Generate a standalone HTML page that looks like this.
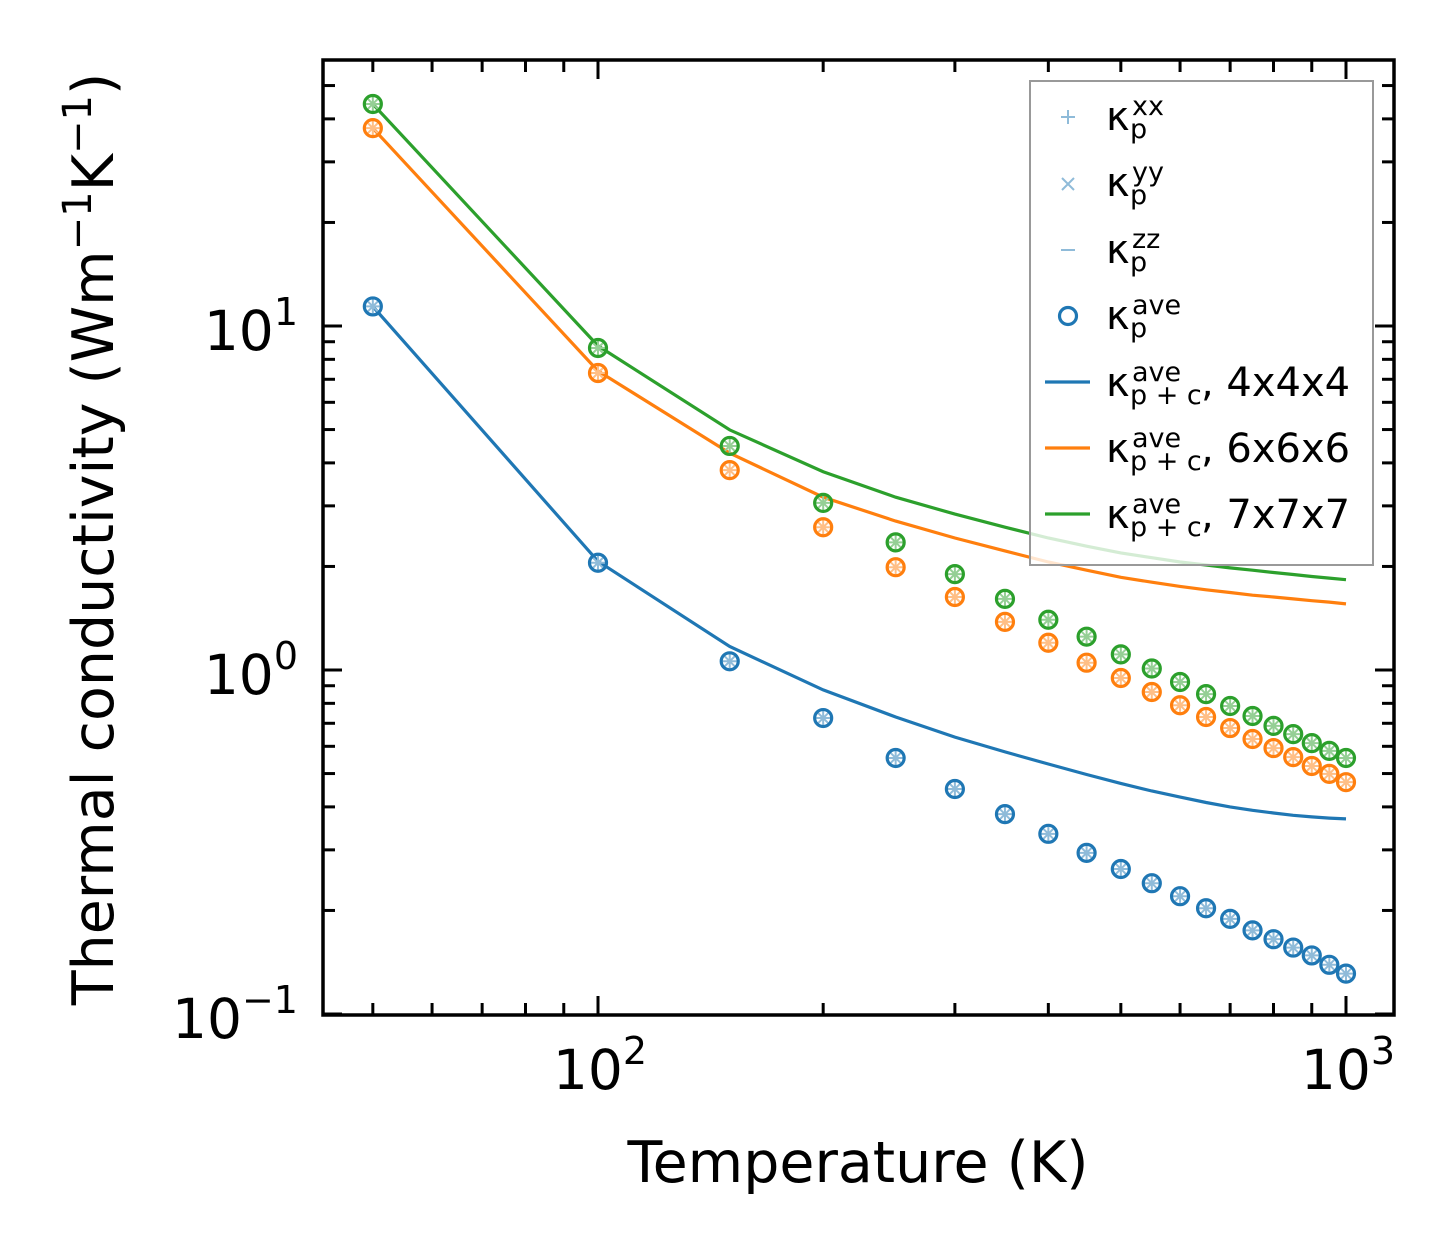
<!DOCTYPE html>
<html><head><meta charset="utf-8"><style>
html,body{margin:0;padding:0;background:#fff}
svg{display:block;font-family:"DejaVu Sans","Liberation Sans",sans-serif}
</style></head><body>
<svg id="chart" width="1454" height="1254" viewBox="0 0 1454 1254" xmlns="http://www.w3.org/2000/svg" style="position:absolute;left:0;top:0">
<g id="plot"></g>
</svg>
<script>
const temps = [50,100,150,200,250,300,350,400,450,500,550,600,650,700,750,800,850,900,950,1000];
const blueP = [11.4,2.05,1.06,0.725,0.555,0.451,0.381,0.334,0.294,0.264,0.240,0.220,0.203,0.189,0.175,0.165,0.156,0.148,0.139,0.131];
const orangeP = [37.6,7.3,3.81,2.6,1.99,1.63,1.38,1.20,1.05,0.948,0.863,0.79,0.73,0.678,0.63,0.593,0.558,0.526,0.499,0.472];
const greenP = [44.2,8.63,4.48,3.06,2.35,1.90,1.61,1.40,1.25,1.11,1.01,0.923,0.851,0.786,0.735,0.688,0.651,0.613,0.582,0.555];
const blueL = [11.4,2.07,1.17,0.875,0.73,0.638,0.578,0.533,0.497,0.468,0.445,0.427,0.412,0.400,0.391,0.384,0.378,0.374,0.371,0.369];
const orangeL = [37.6,7.4,4.27,3.18,2.71,2.42,2.22,2.06,1.95,1.86,1.80,1.75,1.71,1.68,1.65,1.63,1.61,1.59,1.575,1.556];
const greenL = [44.2,8.75,4.99,3.77,3.18,2.84,2.6,2.42,2.29,2.19,2.12,2.06,2.02,1.98,1.95,1.92,1.895,1.87,1.85,1.83];
const xTickVals = [100,1000];
const xTickExp = ['2','3'];
const yTickVals = [0.1,1,10];
const yTickExp = ['−1','0','1'];

const NS='http://www.w3.org/2000/svg';
const L=323,R=1394,T=60,B=1015;
function X(v){return 598+(Math.log10(v)-2)*748;}
function Y(v){return 670-Math.log10(v)*344;}
const g=document.getElementById('plot');
function mk(tag,attrs,parent){const e=document.createElementNS(NS,tag);for(const k in attrs)e.setAttribute(k,attrs[k]);(parent||g).appendChild(e);return e;}

const cols={b:'#1f77b4',o:'#ff7f0e',g:'#2ca02c'};
const lcols={b:'#8fbbd9',o:'#ffbf86',g:'#95cf95'};
const series=[['b',blueP,blueL,'blue'],['o',orangeP,orangeL,'orange'],['g',greenP,greenL,'green']];

series.forEach(s=>{
  const d=temps.map((t,i)=>(i?'L':'M')+X(t).toFixed(1)+','+Y(s[2][i]).toFixed(1)).join(' ');
  const p=mk('path',{d:d,fill:'none',stroke:cols[s[0]],'stroke-width':3.2});
  
  
});
series.forEach(s=>{
  temps.forEach((t,i)=>{
    const cx=X(t),cy=Y(s[1][i]);
    const grp=mk('g',{});
    
    
    const lc=lcols[s[0]];
    mk('path',{d:`M${cx-7},${cy}H${cx+7}M${cx},${cy-7}V${cy+7}M${cx-5},${cy-5}L${cx+5},${cy+5}M${cx-5},${cy+5}L${cx+5},${cy-5}`,stroke:lc,'stroke-width':2},grp);
    mk('circle',{cx:cx,cy:cy,r:8.5,fill:'none',stroke:cols[s[0]],'stroke-width':3.2},grp);
  });
});

const ax=mk('g',{});


function tick(x1,y1,x2,y2){mk('line',{x1:x1,y1:y1,x2:x2,y2:y2,stroke:'#000','stroke-width':3},ax);}
for(let dec=10;dec<=1000;dec*=10){for(let m=1;m<10;m++){const v=dec*m;const x=X(v);if(x<L||x>R)continue;const len=m===1?19:12;tick(x,B,x,B-len);tick(x,T,x,T+len);}}
for(let dec=0.1;dec<=100;dec*=10){for(let m=1;m<10;m++){const v=dec*m;const y=Y(v);if(y<T-1||y>B+1)continue;const len=m===1?19:12;tick(L,y,L+len,y);tick(R,y,R-len,y);}}
mk('rect',{x:L,y:T,width:R-L,height:B-T,fill:'none',stroke:'#000','stroke-width':3.5},ax);

xTickVals.forEach((v,i)=>{
  const t=mk('text',{x:X(v)+2,y:1089,'font-size':55,'text-anchor':'middle'});
  
  
  t.innerHTML='10<tspan dy="-25" font-size="38">'+xTickExp[i]+'</tspan>';
});
yTickVals.forEach((v,i)=>{
  const t=mk('text',{x:298,y:Y(v)+24,'font-size':55,'text-anchor':'end'});
  
  
  t.innerHTML='10<tspan dy="-25" font-size="38">'+yTickExp[i]+'</tspan>';
});
</script>
<svg style="position:absolute;left:0;top:0" width="1454" height="1254" xmlns="http://www.w3.org/2000/svg" font-family="DejaVu Sans, Liberation Sans, sans-serif">
<text x="858" y="1182" font-size="57" text-anchor="middle">Temperature (K)</text>
<text transform="translate(113,539) rotate(-90)" font-size="57" text-anchor="middle">Thermal conductivity (Wm<tspan dy="-22" font-size="40">−1</tspan><tspan dy="22">K</tspan><tspan dy="-22" font-size="40">−1</tspan><tspan dy="22">)</tspan></text>
<g>
<rect x="1030" y="81" width="343" height="484" fill="#fff" fill-opacity="0.8" stroke="#999" stroke-width="2"/>
<g>
<path d="M1061,117H1075M1068,110V124" stroke="#8fbbd9" stroke-width="2"/>
<text x="1106" y="130" font-size="40">κ</text><text x="1130" y="138" font-size="27">p</text><text x="1132" y="115" font-size="27">xx</text></g>
<g>
<path d="M1062,178L1074,190M1062,190L1074,178" stroke="#8fbbd9" stroke-width="2"/>
<text x="1106" y="196" font-size="40">κ</text><text x="1130" y="204" font-size="27">p</text><text x="1132" y="181" font-size="27">yy</text></g>
<g>
<path d="M1061,250H1075" stroke="#8fbbd9" stroke-width="2"/>
<text x="1106" y="263" font-size="40">κ</text><text x="1130" y="271" font-size="27">p</text><text x="1132" y="248" font-size="27">zz</text></g>
<g>
<circle cx="1068" cy="316" r="8.5" fill="none" stroke="#1f77b4" stroke-width="3.2"/>
<text x="1106" y="329" font-size="40">κ</text><text x="1130" y="337" font-size="27">p</text><text x="1132" y="314" font-size="27">ave</text></g>
<g>
<line x1="1045" y1="382" x2="1090" y2="382" stroke="#1f77b4" stroke-width="3.2"/>
<text x="1106" y="396" font-size="40">κ</text><text x="1130" y="404" font-size="27">p + c</text><text x="1132" y="381" font-size="27">ave</text><text x="1201" y="396" font-size="40">, 4x4x4</text></g>
<g>
<line x1="1045" y1="448" x2="1090" y2="448" stroke="#ff7f0e" stroke-width="3.2"/>
<text x="1106" y="462" font-size="40">κ</text><text x="1130" y="470" font-size="27">p + c</text><text x="1132" y="447" font-size="27">ave</text><text x="1201" y="462" font-size="40">, 6x6x6</text></g>
<g>
<line x1="1045" y1="514" x2="1090" y2="514" stroke="#2ca02c" stroke-width="3.2"/>
<text x="1106" y="528" font-size="40">κ</text><text x="1130" y="536" font-size="27">p + c</text><text x="1132" y="513" font-size="27">ave</text><text x="1201" y="528" font-size="40">, 7x7x7</text></g>
</g>
</svg>
</body></html>
